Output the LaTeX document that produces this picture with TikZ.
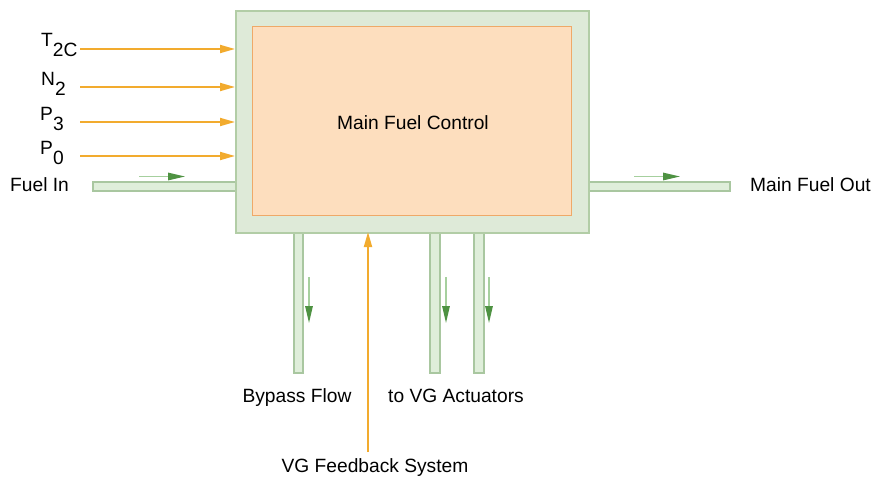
\documentclass[tikz,border=0pt]{standalone}
\usepackage{fontspec}
\setmainfont{Liberation Sans}
\usetikzlibrary{arrows.meta}
\definecolor{orangeline}{HTML}{F2AB2E}
\definecolor{innerfill}{HTML}{FDDEBE}
\definecolor{innerdraw}{HTML}{EFA968}
\definecolor{outerfill}{HTML}{DEEAD8}
\definecolor{outerdraw}{HTML}{B2CDA6}
\definecolor{pipefill}{HTML}{DFEEDA}
\definecolor{pipedraw}{HTML}{A9C7A0}
\definecolor{flowshaft}{HTML}{A6D09E}
\definecolor{flowhead}{HTML}{4E9242}
\tikzset{
  lbl/.style={inner sep=0pt, anchor=base west, font=\fontsize{19.2}{22}\selectfont},
  clbl/.style={inner sep=0pt, anchor=base, font=\fontsize{19.2}{22}\selectfont},
  sig/.style={draw=orangeline, line width=1.8pt, -{Triangle[length=15pt,width=8pt,fill=orangeline,color=orangeline]}},
  pipe/.style={fill=pipefill, draw=pipedraw, line width=1.2pt},
  flow/.style={draw=flowshaft, line width=1.4pt, -{Triangle[length=17pt,width=7.5pt,fill=flowhead,color=flowhead]}},
}
\newcommand{\sublow}[1]{\raisebox{-10pt}{#1}}
\begin{document}
\begin{tikzpicture}[x=1pt,y=-1pt]
\useasboundingbox (0,0) rectangle (878,487);
% pipe coordinates
\coordinate (finA) at (93,182); \coordinate (finB) at (236,191);
\coordinate (foutA) at (587,182); \coordinate (foutB) at (730,191);
\coordinate (bypA) at (294,231); \coordinate (bypB) at (303,373);
\coordinate (actA) at (430,231); \coordinate (actB) at (440,373);
\coordinate (actC) at (474,231); \coordinate (actD) at (484,373);
\draw[pipe] (finA) rectangle (finB);
\draw[pipe] (foutA) rectangle (foutB);
\draw[pipe] (bypA) rectangle (bypB);
\draw[pipe] (actA) rectangle (actB);
\draw[pipe] (actC) rectangle (actD);
% boxes
\node[fill=outerfill, draw=outerdraw, line width=1.6pt, minimum width=353pt, minimum height=222pt, inner sep=0pt, anchor=north west] (outer) at (235,10) {};
\node[fill=innerfill, draw=innerdraw, line width=1.4pt, minimum width=319pt, minimum height=189pt, inner sep=0pt, anchor=north west] (inner) at (252,26) {};
\node[clbl] (mfc) at (413,129) {Main Fuel Control};
% input labels
\node[lbl] (t2c) at (41,47) {T\sublow{2C}};
\node[lbl] (n2) at (41,85) {N\sublow{2}};
\node[lbl] (p3) at (40,120) {P\sublow{3}};
\node[lbl] (p0) at (40,154) {P\sublow{0}};
\node[lbl] (fin) at (10,191) {Fuel In};
\node[lbl] (fout) at (750,191) {Main Fuel Out};
\node[clbl] (byp) at (297,402) {Bypass Flow};
\node[clbl] (act) at (456,402) {to VG Actuators};
\node[clbl] (vgf) at (375,472) {VG Feedback System};
% signal arrows
\coordinate (s1) at (80,49); \coordinate (e1) at (235,49);
\coordinate (s2) at (80,87); \coordinate (e2) at (235,87);
\coordinate (s3) at (80,122); \coordinate (e3) at (235,122);
\coordinate (s4) at (80,156); \coordinate (e4) at (235,156);
\draw[sig] (s1) -- (e1);
\draw[sig] (s2) -- (e2);
\draw[sig] (s3) -- (e3);
\draw[sig] (s4) -- (e4);
\coordinate (vgs) at (368,452); \coordinate (vge) at (368,232);
\draw[sig] (vgs) -- (vge);
% flow arrows
\coordinate (fa1) at (139,176.5); \coordinate (fa2) at (185,176.5);
\coordinate (fb1) at (634,176.5); \coordinate (fb2) at (680,176.5);
\coordinate (fc1) at (309,277); \coordinate (fc2) at (309,323);
\coordinate (fd1) at (446,277); \coordinate (fd2) at (446,323);
\coordinate (fe1) at (489,277); \coordinate (fe2) at (489,323);
\draw[flow] (fa1) -- (fa2);
\draw[flow] (fb1) -- (fb2);
\draw[flow] (fc1) -- (fc2);
\draw[flow] (fd1) -- (fd2);
\draw[flow] (fe1) -- (fe2);
\end{tikzpicture}
\end{document}
